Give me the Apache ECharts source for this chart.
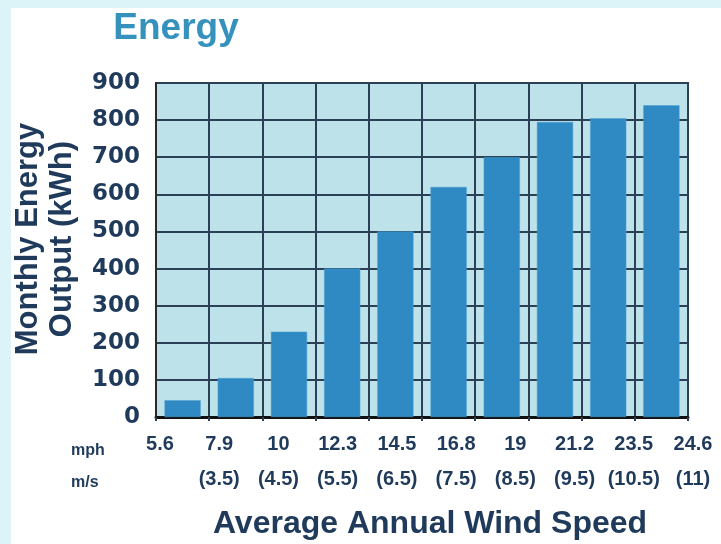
<!DOCTYPE html>
<html>
<head>
<meta charset="utf-8">
<script src="https://cdn.jsdelivr.net/npm/echarts@6/dist/echarts.min.js"></script>
<style>
html,body{margin:0;padding:0;background:#fff;}
#c{width:721px;height:544px;}
</style>
</head>
<body>
<div id="c"></div>
<script>
const titleText = 'Energy';
const yTitleLines = ['Monthly Energy', 'Output (kWh)'];
const xTitle = 'Average Annual Wind Speed';
const mphLabels = ['5.6', '7.9', '10', '12.3', '14.5', '16.8', '19', '21.2', '23.5', '24.6'];
const msLabels = ['', '(3.5)', '(4.5)', '(5.5)', '(6.5)', '(7.5)', '(8.5)', '(9.5)', '(10.5)', '(11)'];
const energyValues = [45, 105, 230, 400, 500, 620, 700, 795, 805, 840];
const yTicks = [0, 100, 200, 300, 400, 500, 600, 700, 800, 900];

const dark = '#1f3a5a';
const chart = echarts.init(document.getElementById('c'), null, {renderer: 'canvas'});
const option = {
  animation: false,
  backgroundColor: '#dcf4f8',
  grid: [
    {left: 156, top: 83, width: 532, height: 334, show: true, backgroundColor: '#bde2e9', borderColor: '#3a3a3a', borderWidth: 2, containLabel: false},
    {left: 160, top: 417, width: 533, height: 0, show: false}
  ],
  xAxis: [
    {
      type: 'category', gridIndex: 0, data: mphLabels, boundaryGap: true,
      axisLine: {show: true, lineStyle: {color: '#111', width: 3}},
      axisTick: {show: true, length: 4, lineStyle: {color: '#2b4056', width: 2}},
      axisLabel: {show: false},
      splitLine: {show: true, interval: 0, lineStyle: {color: '#2b4056', width: 2}}
    },
    {
      type: 'category', gridIndex: 1, data: mphLabels, boundaryGap: false,
      axisLine: {show: false}, axisTick: {show: false}, splitLine: {show: false},
      axisLabel: {
        show: true, interval: 0, margin: 10,
        formatter: function (v, i) { return '{a|' + v + '}\n{b|' + (msLabels[i] || '\u00a0') + '}'; },
        rich: {
          a: {fontFamily: 'Liberation Sans', fontWeight: 'bold', fontSize: 20, color: dark, lineHeight: 35},
          b: {fontFamily: 'Liberation Sans', fontWeight: 'bold', fontSize: 20, color: dark, lineHeight: 35}
        }
      }
    }
  ],
  yAxis: [
    {
      type: 'value', gridIndex: 0, min: yTicks[0], max: yTicks[yTicks.length - 1], interval: 100,
      axisLine: {show: true, lineStyle: {color: '#2b2b2b', width: 2}},
      axisTick: {show: false},
      axisLabel: {show: true, margin: 16, fontFamily: 'DejaVu Sans', fontWeight: 'bold', fontSize: 23, color: dark, padding: [5, 0, 0, 0]},
      splitLine: {show: true, lineStyle: {color: '#2b4056', width: 2}}
    },
    {type: 'value', gridIndex: 1, show: false}
  ],
  series: [{
    type: 'bar', xAxisIndex: 0, yAxisIndex: 0, data: energyValues, barWidth: '68%',
    itemStyle: {color: '#2f8ac4', borderColor: '#4d9fd0', borderWidth: 0.5}
  }],
  graphic: [
    {type: 'rect', z: -100, silent: true, shape: {x: 11, y: 8, width: 710, height: 536}, style: {fill: '#ffffff'}},
    {type: 'text', x: 176, y: 29, style: {text: titleText, fontFamily: 'Liberation Sans', fontWeight: 'bold', fontSize: 37, fill: '#3592bd', align: 'center', verticalAlign: 'middle'}},
    {type: 'text', x: 28, y: 239, rotation: Math.PI / 2, style: {text: yTitleLines[0], fontFamily: 'Liberation Sans', fontWeight: 'bold', fontSize: 31, fill: dark, align: 'center', verticalAlign: 'middle'}},
    {type: 'text', x: 62, y: 239, rotation: Math.PI / 2, style: {text: yTitleLines[1], fontFamily: 'Liberation Sans', fontWeight: 'bold', fontSize: 31, fill: dark, align: 'center', verticalAlign: 'middle'}},
    {type: 'text', x: 430, y: 524, style: {text: xTitle, fontFamily: 'Liberation Sans', fontWeight: 'bold', fontSize: 32, fill: dark, align: 'center', verticalAlign: 'middle'}},
    {type: 'text', x: 71, y: 451, style: {text: 'mph', fontFamily: 'Liberation Sans', fontWeight: 'bold', fontSize: 16, fill: dark, align: 'left', verticalAlign: 'middle'}},
    {type: 'text', x: 71, y: 483, style: {text: 'm/s', fontFamily: 'Liberation Sans', fontWeight: 'bold', fontSize: 16, fill: dark, align: 'left', verticalAlign: 'middle'}}
  ]
};
chart.setOption(option);
</script>
</body>
</html>
